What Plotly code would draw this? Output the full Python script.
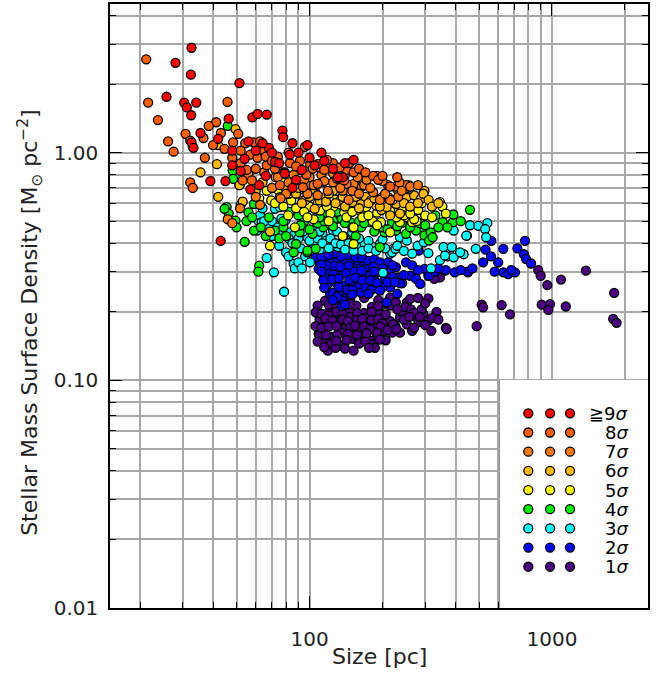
import plotly.graph_objects as go

# size [pc] and stellar mass surface density [Msun/pc^2] per significance group
size_1sig = [108, 116, 124, 134, 144, 156, 168, 181, 195, 110, 119, 130, 139, 151, 161, 174, 188,
             112, 124, 136, 151, 165, 181, 109, 113, 119, 123, 152, 183, 186, 134, 204, 215, 226,
             215, 204, 215, 227, 252, 260, 280, 309, 345, 327, 334, 295, 309, 275, 282, 236, 252,
             221, 219, 236, 265, 318, 365, 489, 513, 520, 878, 898, 957, 1089, 1380, 1805, 1788,
             1847, 1140, 907, 981, 966, 671, 620, 368, 128, 159, 110, 146, 128, 170, 198, 120, 142,
             158, 117, 190, 206,
             129, 147, 168, 192, 120, 129, 147, 192, 106, 112, 120, 129, 137, 157, 180, 206, 116,
             124, 137, 144, 157, 165, 180, 192, 200, 106, 112, 120, 129, 147, 154, 168, 178, 196,
             210, 117, 130, 144, 157, 172, 190, 108, 129, 142, 160, 170, 195, 115, 140, 176, 240,
             248, 262, 270, 290, 300, 230, 245, 258, 285, 320, 340, 300, 270, 228]
dens_1sig = [0.213, 0.224, 0.206, 0.219, 0.202, 0.213, 0.198, 0.21, 0.198, 0.186, 0.179, 0.186,
             0.173, 0.182, 0.172, 0.179, 0.169, 0.162, 0.155, 0.162, 0.152, 0.159, 0.149, 0.16,
             0.149, 0.135, 0.145, 0.135, 0.144, 0.139, 0.142, 0.165, 0.182, 0.173, 0.213, 0.217,
             0.231, 0.22, 0.22, 0.228, 0.23, 0.229, 0.283, 0.279, 0.2, 0.195, 0.183, 0.189, 0.18,
             0.189, 0.176, 0.176, 0.162, 0.162, 0.165, 0.165, 0.17, 0.173, 0.215, 0.209, 0.305,
             0.288, 0.262, 0.277, 0.303, 0.242, 0.186, 0.179, 0.211, 0.215, 0.216, 0.204, 0.195,
             0.214, 0.168, 0.139, 0.15, 0.159, 0.19, 0.196, 0.188, 0.185, 0.2, 0.172, 0.166, 0.17,
             0.157, 0.15,
             0.228, 0.226, 0.23, 0.225, 0.215, 0.211, 0.216, 0.212, 0.199, 0.196, 0.193, 0.2,
             0.196, 0.197, 0.2, 0.195, 0.187, 0.183, 0.185, 0.182, 0.184, 0.186, 0.184, 0.186,
             0.178, 0.173, 0.17, 0.172, 0.173, 0.17, 0.174, 0.172, 0.168, 0.172, 0.166, 0.158,
             0.158, 0.16, 0.158, 0.161, 0.162, 0.148, 0.149, 0.15, 0.145, 0.148, 0.151, 0.14,
             0.138, 0.139, 0.2, 0.21, 0.205, 0.198, 0.205, 0.218, 0.205, 0.185, 0.19, 0.19, 0.188,
             0.185, 0.175, 0.17, 0.168]

size_2sig = [109, 116, 123, 131, 140, 150, 159, 168, 109, 115, 121.5, 131, 137, 147, 158, 169, 178,
             119, 128, 137, 150, 159, 121.5, 125, 137, 136, 163, 188, 197, 215, 192, 204, 211, 215,
             227, 232, 241, 260, 275, 286, 309, 298, 362, 397, 450, 562, 532, 281, 109, 106, 630,
             774, 765, 782, 820, 630, 660, 704, 448, 365, 236, 230, 200, 132, 137, 208, 282, 311,
             145, 128, 175, 185, 152, 117, 143, 170,
             112, 120, 135, 155, 165, 175, 185, 195, 112, 127, 134, 145, 162, 183, 200, 220, 112,
             125, 142, 153, 164, 185, 205, 220, 245, 114, 124, 132, 146, 155, 165, 178, 190, 210,
             225, 115, 132, 150, 170, 180, 195, 130, 150, 175, 140, 125, 250, 265, 280, 330, 340,
             420, 470, 520, 560, 600, 680, 720, 580]
dens_2sig = [0.335, 0.347, 0.33, 0.34, 0.326, 0.335, 0.322, 0.33, 0.309, 0.288, 0.303, 0.293, 0.303,
             0.288, 0.298, 0.288, 0.293, 0.265, 0.27, 0.26, 0.267, 0.256, 0.24, 0.243, 0.231, 0.212,
             0.243, 0.26, 0.265, 0.256, 0.298, 0.295, 0.33, 0.309, 0.314, 0.283, 0.267, 0.288,
             0.279, 0.265, 0.288, 0.309, 0.303, 0.298, 0.298, 0.41, 0.375, 0.374, 0.365, 0.347,
             0.378, 0.41, 0.358, 0.341, 0.326, 0.298, 0.293, 0.298, 0.30, 0.305, 0.267, 0.24, 0.256,
             0.24, 0.224, 0.22, 0.371, 0.288, 0.355, 0.36, 0.315, 0.275, 0.31, 0.32, 0.25, 0.27,
             0.35, 0.355, 0.35, 0.347, 0.345, 0.335, 0.34, 0.33, 0.322, 0.318, 0.315, 0.318, 0.31,
             0.315, 0.31, 0.32, 0.3, 0.292, 0.295, 0.3, 0.303, 0.3, 0.28, 0.285, 0.29, 0.275, 0.278,
             0.28, 0.276, 0.282, 0.275, 0.275, 0.268, 0.27, 0.27, 0.255, 0.257, 0.25, 0.255, 0.25,
             0.248, 0.232, 0.238, 0.24, 0.215, 0.225, 0.33, 0.32, 0.305, 0.3, 0.31, 0.305, 0.31,
             0.33, 0.35, 0.33, 0.305, 0.38, 0.3]

size_3sig = [61.5, 60.8, 67.8, 66.6, 71.3, 78.5, 80, 86, 87, 62.5, 63.5, 68.7, 72, 75.5, 76.5, 79.5,
             83, 87, 98, 104, 96, 100.5, 90, 113, 117, 125, 131, 142, 150, 158, 169, 183, 195, 215,
             221, 60, 64, 93, 459, 497, 541, 530, 535, 446, 393, 357, 371, 393, 432, 345, 309, 485,
             219, 386, 418, 362, 314, 279, 296, 236, 252, 226, 201, 317, 443, 107, 120, 138, 160,
             175, 92, 110,
             70, 74, 77, 82, 85, 90, 94, 100, 108, 113, 122, 128, 135, 145, 152, 165, 175, 188, 205,
             230, 245, 265, 120, 140, 82, 75, 70, 65, 110, 130, 200]
dens_3sig = [0.503, 0.455, 0.44, 0.345, 0.298, 0.245, 0.365, 0.325, 0.31, 0.53, 0.495, 0.47, 0.567,
             0.576, 0.513, 0.503, 0.447, 0.44, 0.425, 0.397, 0.35, 0.33, 0.33, 0.44, 0.411, 0.455,
             0.385, 0.411, 0.447, 0.385, 0.397, 0.385, 0.397, 0.36, 0.378, 0.60, 0.57, 0.31, 0.48,
             0.477, 0.49, 0.462, 0.425, 0.432, 0.455, 0.385, 0.35, 0.347, 0.358, 0.337, 0.362,
             0.378, 0.365, 0.385, 0.365, 0.353, 0.418, 0.39, 0.404, 0.425, 0.411, 0.378, 0.297,
             0.31, 0.432, 0.47, 0.49, 0.43, 0.42, 0.41, 0.38, 0.375,
             0.5, 0.47, 0.44, 0.42, 0.4, 0.42, 0.45, 0.41, 0.42, 0.4, 0.42, 0.40, 0.395, 0.4, 0.37,
             0.37, 0.38, 0.37, 0.38, 0.39, 0.37, 0.36, 0.38, 0.375, 0.35, 0.39, 0.43, 0.5, 0.45,
             0.45, 0.415]

size_4sig = [46, 48.2, 50.7, 51.4, 45.5, 46.4, 49.5, 54, 62, 61.5, 48.4, 44.6, 50, 59, 56, 59, 72, 78,
             88, 98, 86, 106, 114, 121.5, 131, 91, 147, 98, 117, 125, 136, 147, 163, 178, 192, 204,
             195, 219, 227, 279, 295, 298, 311, 330, 354, 390, 392, 459, 316, 322, 275, 68, 83, 95,
             103, 155, 240, 250, 172,
             52, 55, 58, 63, 66, 75, 80, 92, 100, 108, 115, 125, 140, 150, 160, 168, 185, 200, 210,
             230, 260, 285, 300, 340, 370, 420, 130, 110, 90, 78]
dens_4sig = [1.31, 0.836, 0.767, 0.72, 0.577, 0.54, 0.503, 0.406, 0.319, 0.30, 0.767, 0.567, 0.47,
             0.595, 0.547, 0.455, 0.455, 0.47, 0.397, 0.365, 0.365, 0.378, 0.47, 0.487, 0.513,
             0.447, 0.576, 0.371, 0.53, 0.503, 0.513, 0.495, 0.47, 0.495, 0.47, 0.447, 0.385,
             0.495, 0.455, 0.463, 0.455, 0.433, 0.411, 0.53, 0.495, 0.495, 0.535, 0.561, 0.447,
             0.425, 0.455, 0.52, 0.55, 0.5, 0.44, 0.43, 0.49, 0.44, 0.53,
             0.59, 0.50, 0.52, 0.47, 0.43, 0.42, 0.43, 0.48, 0.46, 0.49, 0.50, 0.475, 0.49, 0.47,
             0.5, 0.49, 0.45, 0.47, 0.46, 0.475, 0.47, 0.49, 0.48, 0.47, 0.47, 0.5, 0.55, 0.52,
             0.53, 0.5]

size_5sig = [68.7, 81.6, 74.7, 77.3, 66.6, 84, 91.3, 94.3, 125, 110.5, 139, 152, 137, 87, 69.5, 161.5,
             171, 182, 197, 222, 236, 252, 265, 276, 345, 353, 365, 215, 152, 281, 270, 100, 115,
             130, 145, 205, 240, 104, 62,
             72, 78, 88, 95, 108, 118, 122, 135, 142, 150, 158, 165, 175, 190, 215, 228, 245, 260,
             300, 320, 190, 120, 98, 82, 130, 290]
dens_5sig = [0.39, 0.53, 0.68, 0.74, 0.68, 0.617, 0.69, 0.617, 0.576, 0.557, 0.547, 0.47, 0.43, 0.47,
             0.617, 0.557, 0.576, 0.50, 0.495, 0.567, 0.495, 0.52, 0.495, 0.50, 0.606, 0.58, 0.54,
             0.447, 0.397, 0.56, 0.51, 0.58, 0.62, 0.64, 0.60, 0.60, 0.56, 0.51, 0.63,
             0.6, 0.58, 0.57, 0.55, 0.6, 0.58, 0.54, 0.59, 0.52, 0.55, 0.6, 0.52, 0.53, 0.545,
             0.555, 0.52, 0.53, 0.54, 0.53, 0.52, 0.48, 0.5, 0.52, 0.66, 0.68, 0.6]

size_6sig = [35.5, 42, 42, 49.5, 41.5, 51.4, 53, 68.7, 96, 105, 110, 116, 134, 150, 163, 188, 198, 208,
             228, 236, 215, 252, 270, 288, 298, 256, 295, 211, 195, 75.5, 84, 98, 113, 125, 137, 117,
             78, 72.5, 88, 105, 145, 170, 180,
             60, 64, 70, 80, 90, 100, 106, 120, 128, 140, 155, 160, 175, 185, 200, 220, 245, 260,
             280, 310, 320, 150, 93, 340, 230]
dens_6sig = [0.82, 0.64, 1.08, 1.27, 0.89, 0.72, 0.61, 0.45, 0.617, 0.567, 0.617, 0.64, 0.617, 0.606,
             0.595, 0.586, 0.56, 0.576, 0.595, 0.54, 0.53, 0.64, 0.65, 0.627, 0.68, 0.69, 0.66,
             0.637, 0.58, 0.637, 0.73, 0.73, 0.74, 0.68, 0.64, 0.61, 0.82, 0.78, 0.66, 0.68, 0.68,
             0.64, 0.62,
             0.68, 0.74, 0.7, 0.69, 0.7, 0.64, 0.72, 0.66, 0.6, 0.58, 0.64, 0.57, 0.6, 0.63, 0.64,
             0.62, 0.6, 0.58, 0.6, 0.62, 0.58, 0.7, 0.6, 0.6, 0.69]

size_7sig = [254, 257, 232, 215, 137, 164, 152, 125, 119, 108, 195, 91, 46, 48, 51.7, 62.5, 190, 211,
             226, 250, 260, 205, 183, 168, 178, 150, 142, 134, 125, 121.5, 56, 60, 70, 80, 100, 112,
             65, 74, 82, 86, 95, 104, 115, 130, 140, 158, 172, 200, 235, 240, 280, 160, 145, 76, 98,
             110]
dens_7sig = [0.70, 0.72, 0.64, 0.62, 0.68, 0.71, 0.73, 0.74, 0.68, 0.65, 0.62, 0.84, 0.51, 0.49, 0.57,
             0.59, 0.79, 0.72, 0.71, 0.72, 0.71, 0.66, 0.67, 0.72, 0.70, 0.68, 0.73, 0.70, 0.81,
             0.88, 0.80, 0.64, 0.70, 0.66, 0.78, 0.80,
             0.82, 0.78, 0.74, 0.8, 0.76, 0.72, 0.75, 0.77, 0.8, 0.78, 0.76, 0.75, 0.74, 0.68, 0.72,
             0.66, 0.62, 0.63, 0.66, 0.86]

size_8sig = [21.2, 21.6, 23.7, 26.1, 27.5, 30.8, 32.2, 33, 45.9, 36.5, 32.2, 33, 41.2, 38.4, 43.1,
             48.4, 50.8, 54.3, 58.8, 62.5, 63.3, 68.7, 72, 91.3, 100.5, 95.7, 103, 108, 121.5, 125,
             142, 152, 139, 183, 192, 215, 88, 79, 66.6, 57.8, 53, 55, 44.6, 75.5, 94, 108,
             52, 57, 61, 66, 70, 74, 83, 88, 97, 115, 118, 133, 146, 160, 170, 200, 230, 60, 52, 48,
             40, 37, 82]
dens_8sig = [2.57, 1.66, 1.39, 1.12, 1.01, 1.21, 1.13, 1.06, 1.67, 1.16, 0.74, 0.70, 1.36, 1.31, 1.22,
             1.11, 1.21, 1.10, 1.11, 1.12, 1.03, 0.99, 0.85, 0.92, 0.89, 1.06, 0.85, 0.89, 0.89,
             0.90, 0.84, 0.82, 0.755, 0.79, 0.76, 0.71, 0.755, 0.82, 0.88, 0.755, 0.755, 0.84, 1.04,
             0.72, 0.705, 0.73,
             1.02, 0.98, 0.95, 0.96, 0.92, 0.96, 0.9, 0.87, 0.8, 0.84, 0.93, 0.86, 0.9, 0.85, 0.82,
             0.79, 0.78, 0.85, 0.9, 0.95, 1.08, 0.95, 1.0]

size_9sig = [32.6, 28.0, 32.4, 51.4, 25.7, 30.4, 31.2, 34.1, 32.5, 46.4, 58.1, 61.1, 66.6, 77.3, 77.8,
             85, 39.0, 43.0, 35.5, 32.6, 33.2, 98, 112, 152, 137, 72, 79, 88, 54, 57, 45, 48, 75, 93,
             62, 105, 125, 68, 56, 100, 131,
             64, 70, 83, 90, 60, 52, 66, 85, 115, 140, 48, 42]
dens_9sig = [2.89, 2.48, 2.20, 2.02, 1.76, 1.66, 1.58, 1.66, 1.46, 1.41, 1.43, 1.48, 1.47, 1.25, 1.17,
             1.10, 0.75, 0.41, 1.22, 1.11, 1.05, 1.08, 1.00, 0.93, 0.78, 0.91, 0.81, 0.76, 0.94, 0.69,
             0.75, 1.02, 0.90, 0.84, 0.72, 0.88, 0.85, 1.05, 1.12, 0.95, 0.78,
             1.1, 1.0, 0.98, 1.0, 1.02, 0.83, 0.79, 0.7, 0.92, 0.9, 0.88, 1.15]

labels = ["1σ", "2σ", "3σ", "4σ", "5σ", "6σ", "7σ", "8σ", "≧9σ"]
colors = ["#4B0082", "#0000FF", "#00FFFF", "#00EE00", "#FFFF00", "#FFBB00", "#FF7800", "#FF5F00", "#FF0000"]

sizes = [size_1sig, size_2sig, size_3sig, size_4sig, size_5sig, size_6sig, size_7sig, size_8sig, size_9sig]
dens = [dens_1sig, dens_2sig, dens_3sig, dens_4sig, dens_5sig, dens_6sig, dens_7sig, dens_8sig, dens_9sig]

x_minor = [20, 30, 40, 50, 60, 70, 80, 90, 200, 300, 400, 500, 600, 700, 800, 900, 2000]
y_minor = [0.02, 0.03, 0.04, 0.05, 0.06, 0.07, 0.08, 0.09, 0.2, 0.3, 0.4, 0.5, 0.6, 0.7, 0.8, 0.9, 2, 3, 4]

FONT = "DejaVu Sans"
GRID = "#a8a8a8"
MSIZE = 9
EDGE = dict(color="black", width=1.3)

fig = go.Figure()

# low significance first so the high ones sit on top
for xs, ys, c, lab in zip(sizes, dens, colors, labels):
    fig.add_trace(go.Scatter(x=xs, y=ys, mode="markers", name=lab, showlegend=False,
                             marker=dict(size=MSIZE, color=c, line=EDGE)))

# hand made legend: three dots per row, drawn on an overlay axis inside the box
leg_x = [0.191, 0.338, 0.473]
for i, (c, lab) in enumerate(zip(colors, labels)):
    row = 0.181 + i * 0.0841
    fig.add_trace(go.Scatter(x=leg_x, y=[row] * 3, mode="markers", showlegend=False,
                             xaxis="x2", yaxis="y2", hoverinfo="skip",
                             marker=dict(size=MSIZE, color=c, line=EDGE)))
    fig.add_annotation(x=0.878, y=row, xref="x2", yref="y2", xanchor="right", yanchor="middle",
                       text=lab.replace("σ", "<i>σ</i>"), showarrow=False,
                       font=dict(family=FONT, size=18, color="black"))

fig.add_shape(type="rect", xref="paper", yref="paper", x0=0.725, x1=1, y0=0, y1=0.3775,
              fillcolor="white", line=dict(color="#333", width=1.2), layer="between")

fig.update_layout(
    width=668, height=679,
    margin=dict(l=110, r=20, t=4, b=71),
    paper_bgcolor="white", plot_bgcolor="white",
    font=dict(family=FONT, size=20, color="#222"),
    xaxis=dict(type="log", range=[1.177, 3.396], tickmode="array", tickvals=[100, 1000],
               ticktext=["100", "1000"], ticks="inside", ticklen=12, tickcolor="black",
               showline=True, linecolor="black", linewidth=1.5, mirror="allticks",
               showgrid=True, gridcolor=GRID, gridwidth=1.5, zeroline=False,
               ticklabelstandoff=12, automargin=False,
               minor=dict(tickmode="array", tickvals=x_minor, ticks="inside", ticklen=6,
                          tickcolor="black", showgrid=True, gridcolor=GRID, gridwidth=1.5)),
    yaxis=dict(type="log", range=[-2.0, 0.653], tickmode="array", tickvals=[0.01, 0.1, 1],
               ticktext=["0.01", "0.10", "1.00"], ticks="inside", ticklen=12, tickcolor="black",
               showline=True, linecolor="black", linewidth=1.5, mirror="allticks",
               showgrid=True, gridcolor=GRID, gridwidth=1.5, zeroline=False,
               ticklabelstandoff=6, automargin=False,
               minor=dict(tickmode="array", tickvals=y_minor, ticks="inside", ticklen=6,
                          tickcolor="black", showgrid=True, gridcolor=GRID, gridwidth=1.5)),
    xaxis2=dict(domain=[0.725, 1], range=[0, 1], anchor="y2", visible=False, fixedrange=True,
                automargin=False),
    yaxis2=dict(domain=[0, 0.3775], range=[0, 1], anchor="x2", visible=False, fixedrange=True,
                automargin=False),
)

fig.add_annotation(x=0.5, y=-0.081, xref="paper", yref="paper", text="Size [pc]", showarrow=False,
                   xanchor="center", yanchor="middle", font=dict(family=FONT, size=22, color="#222"))
fig.add_annotation(x=-0.149, y=0.4735, xref="paper", yref="paper", textangle=-90, showarrow=False,
                   text="Stellar Mass Surface Density [M<sub>⊙</sub> pc<sup>−2</sup>]",
                   xanchor="center", yanchor="middle", font=dict(family=FONT, size=22, color="#222"))

# drop the default 8px page margin so the figure sits at the window origin
fig.write_html("out.html", config={"displayModeBar": False},
               post_script="document.body.style.margin = '0';")
